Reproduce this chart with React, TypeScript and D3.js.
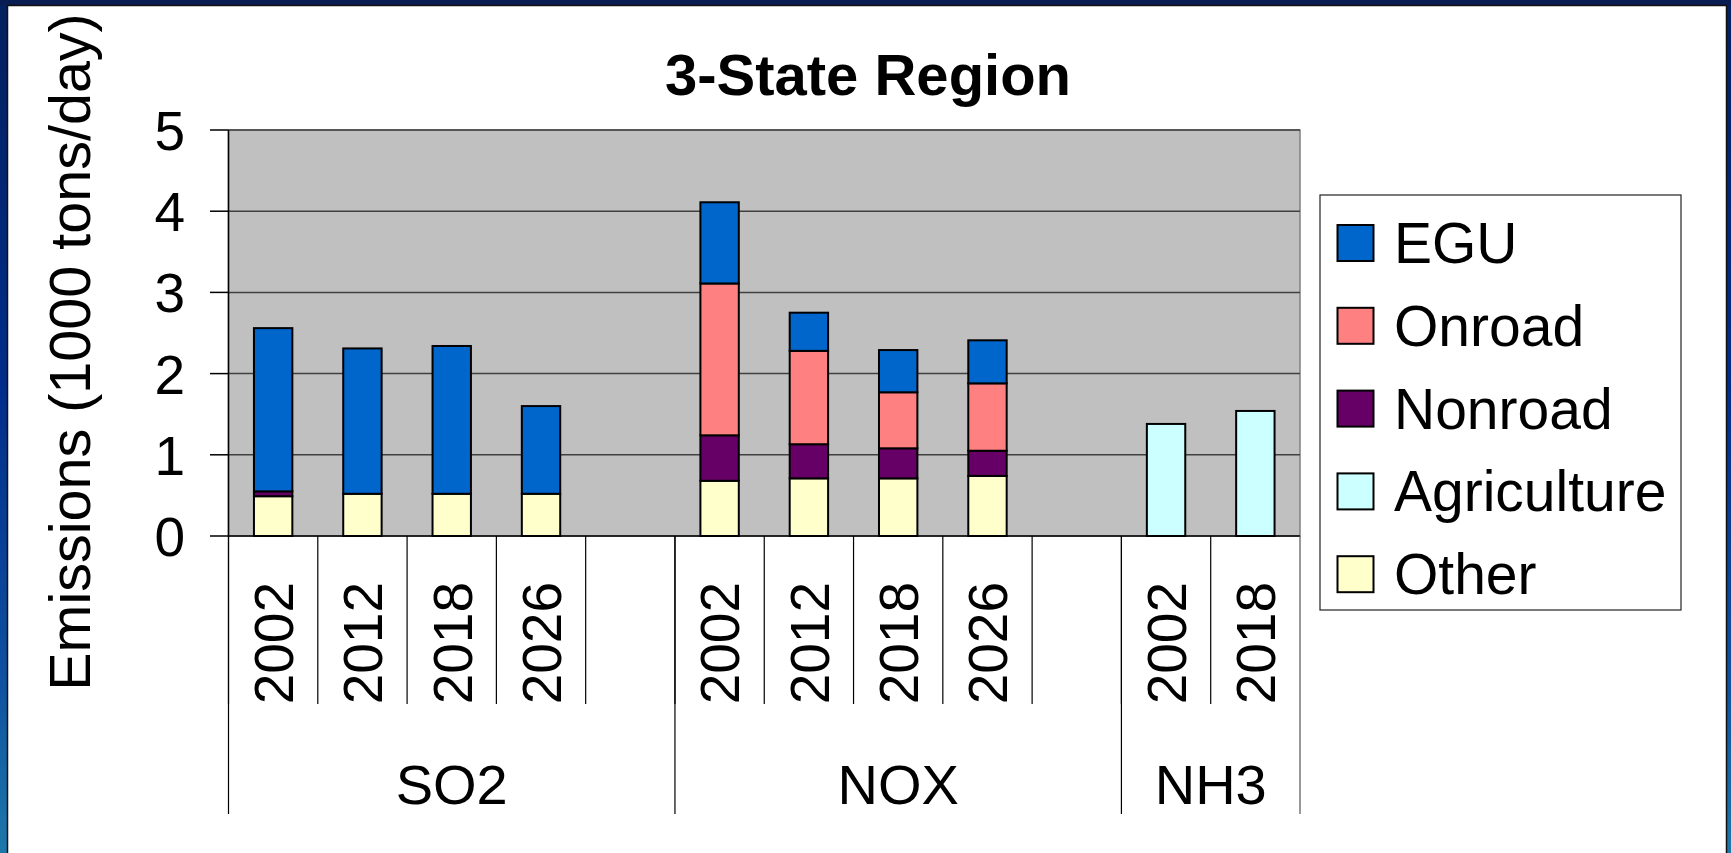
import * as d3 from 'd3';

const pollutants = ['SO2', 'NOX', 'NH3'];
const groupSizes = [5, 5, 2];
const years = ['2002', '2012', '2018', '2026', '', '2002', '2012', '2018', '2026', '', '2002', '2018'];

const egu = [2.01, 1.79, 1.82, 1.08, 0, 1.0, 0.47, 0.52, 0.53, 0, 0, 0];
const onroad = [0, 0, 0, 0, 0, 1.87, 1.15, 0.69, 0.83, 0, 0, 0];
const nonroad = [0.06, 0, 0, 0, 0, 0.56, 0.42, 0.37, 0.31, 0, 0, 0];
const agriculture = [0, 0, 0, 0, 0, 0, 0, 0, 0, 0, 1.38, 1.54];
const other = [0.49, 0.52, 0.52, 0.52, 0, 0.68, 0.71, 0.71, 0.74, 0, 0, 0];

const yTicks = [0, 1, 2, 3, 4, 5];

const seriesNames = ['EGU', 'Onroad', 'Nonroad', 'Agriculture', 'Other'];
const seriesColors = ['#0066cc', '#ff8080', '#660066', '#ccffff', '#ffffcc'];

const W = 1731;
const H = 853;
const FONT = '"Liberation Sans", Arial, sans-serif';

export default function App() {
  const plot = { left: 228.5, right: 1300, top: 130, bottom: 536 };

  const rows = years.map((yr, i) => ({
    key: String(i),
    EGU: egu[i],
    Onroad: onroad[i],
    Nonroad: nonroad[i],
    Agriculture: agriculture[i],
    Other: other[i],
  }));

  const x = d3.scaleBand<string>()
    .domain(rows.map(r => r.key))
    .range([plot.left, plot.right])
    .paddingInner(0)
    .paddingOuter(0);

  const y = d3.scaleLinear().domain([0, 5]).range([plot.bottom, plot.top]);

  const color = d3.scaleOrdinal<string, string>().domain(seriesNames).range(seriesColors);

  // bottom-up stacking order
  const stack = d3.stack<any>().keys(['Other', 'Agriculture', 'Nonroad', 'Onroad', 'EGU']);
  const layers = stack(rows);

  const bw = x.bandwidth();
  const barW = bw * 0.43;

  // group boundaries
  let acc = 0;
  const groups = pollutants.map((p, gi) => {
    const start = acc;
    acc += groupSizes[gi];
    const x0 = x(String(start))!;
    const x1 = start + groupSizes[gi] >= rows.length ? plot.right : x(String(start + groupSizes[gi]))!;
    return { name: p, x0, x1 };
  });

  const legendX = 1320;
  const legendY = 195;
  const legendStep = 82.8;

  return (
    <svg width={W} height={H} style={{ position: 'absolute', left: 0, top: 0, display: 'block' }} fontFamily={FONT}>
      <defs>
        <linearGradient id="frame" x1="0" y1="0" x2="0" y2="1">
          <stop offset="0" stopColor="#04205e" />
          <stop offset="0.45" stopColor="#012d8a" />
          <stop offset="0.8" stopColor="#0f52a0" />
          <stop offset="1" stopColor="#1d78aa" />
        </linearGradient>
      </defs>
      <rect x={0} y={0} width={W} height={H} fill="url(#frame)" />
      <rect x={0} y={0} width={W} height={5} fill="#0a1d52" />
      <rect x={7.5} y={5.5} width={1719} height={H + 10} fill="#ffffff" stroke="#111" strokeWidth={1.5} />

      {/* title */}
      <text x={868} y={95} textAnchor="middle" fontSize={58} fontWeight="bold" fill="#000">3-State Region</text>

      {/* y axis title */}
      <text transform={`translate(90,352) rotate(-90)`} textAnchor="middle" fontSize={57.5} fill="#000">
        Emissions (1000 tons/day)
      </text>

      {/* plot area */}
      <rect x={plot.left} y={plot.top} width={plot.right - plot.left} height={plot.bottom - plot.top}
        fill="#c0c0c0" stroke="#808080" strokeWidth={1.5} />
      {yTicks.filter(t => t > 0).map(t => (
        <line key={t} x1={plot.left} x2={plot.right} y1={y(t)} y2={y(t)} stroke="#404040" strokeWidth={1.5} />
      ))}

      {/* bars */}
      {layers.map(layer => (
        <g key={layer.key} fill={color(layer.key)}>
          {layer.map((d, i) => {
            const h = y(d[0]) - y(d[1]);
            if (h <= 0) return null;
            const cx = x(rows[i].key)! + bw / 2;
            return (
              <rect key={i} x={cx - barW / 2} y={y(d[1])} width={barW} height={h}
                stroke="#000" strokeWidth={2} />
            );
          })}
        </g>
      ))}

      {/* y axis */}
      <line x1={plot.left} x2={plot.left} y1={plot.top} y2={plot.bottom} stroke="#000" strokeWidth={1.5} />
      {yTicks.map(t => (
        <g key={t}>
          <line x1={210} x2={plot.left} y1={y(t)} y2={y(t)} stroke="#000" strokeWidth={1.5} />
          <text x={185} y={y(t) + 20} textAnchor="end" fontSize={55} fill="#000">{t}</text>
        </g>
      ))}
      <line x1={plot.left} x2={plot.right} y1={plot.bottom} y2={plot.bottom} stroke="#000" strokeWidth={1.5} />

      {/* category axis: year tier */}
      {rows.map((r, i) => (
        <line key={'s' + i} x1={x(r.key)!} x2={x(r.key)!} y1={plot.bottom} y2={704} stroke="#000" strokeWidth={1.2} />
      ))}
      {rows.map((r, i) => years[i] ? (
        <text key={'y' + i} transform={`translate(${x(r.key)! + bw / 2},582) rotate(-90)`}
          textAnchor="end" dy="0.36em" fontSize={55} fill="#000">{years[i]}</text>
      ) : null)}

      {/* category axis: pollutant tier */}
      {groups.map(g => (
        <g key={g.name}>
          <line x1={g.x0} x2={g.x0} y1={plot.bottom} y2={814} stroke="#000" strokeWidth={1.2} />
          <text x={(g.x0 + g.x1) / 2} y={804} textAnchor="middle" fontSize={56} fill="#000">{g.name}</text>
        </g>
      ))}
      <line x1={plot.right} x2={plot.right} y1={plot.bottom} y2={814} stroke="#555" strokeWidth={1.2} />

      {/* legend */}
      <rect x={legendX} y={legendY} width={361} height={415} fill="#fff" stroke="#222" strokeWidth={1.2} />
      {seriesNames.map((s, i) => {
        const cy = 243 + i * legendStep;
        return (
          <g key={s}>
            <rect x={1337.5} y={cy - 18} width={36} height={36} fill={color(s)} stroke="#000" strokeWidth={2} />
            <text x={1394} y={cy + 20} fontSize={57} fill="#000">{s}</text>
          </g>
        );
      })}
    </svg>
  );
}
